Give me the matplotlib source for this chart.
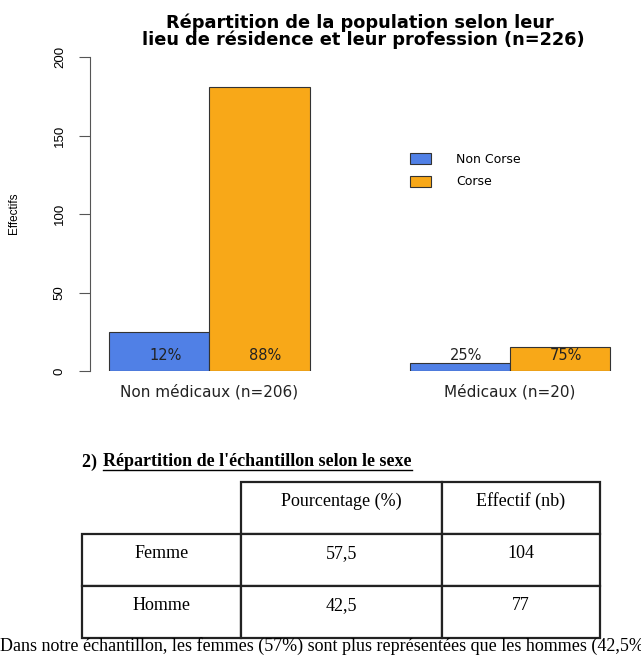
import matplotlib
matplotlib.use('Agg')
import matplotlib.pyplot as plt
import matplotlib.transforms as mtransforms
from matplotlib.patches import Patch
import numpy as np

# ===== données =====
groupes = ['Non médicaux (n=206)', 'Médicaux (n=20)']
non_corse = [25, 5]
corse = [181, 15]
pct_non_corse = ['12%', '25%']
pct_corse = ['88%', '75%']
y_ticks = [0, 50, 100, 150, 200]

tab_colonnes = ['Pourcentage (%)', 'Effectif (nb)']
tab_lignes = ['Femme', 'Homme']
pourcentage = ['57,5', '42,5']
effectif = ['104', '77']

BLEU = '#5080E6'
ORANGE = '#F8A818'
W, H = 641, 657

fig = plt.figure(figsize=(W / 100, H / 100), dpi=100)


def fx(px):
    return px / W


def fy(py):
    return 1 - py / H


# ===== barplot (style R, étiré en largeur) =====
x_px0, unit = 109.2, 100.2   # bord gauche de la 1re barre, largeur d'une barre
ax_l, ax_r = 89.5, 630
ax = fig.add_axes([fx(ax_l), fy(371), fx(ax_r - ax_l), fy(57) - fy(371)])
pos_bleu = np.array([1.5, 4.5])
pos_orange = pos_bleu + 1
ax.bar(pos_bleu, non_corse, width=1, color=BLEU, edgecolor='#333333', linewidth=0.8)
ax.bar(pos_orange, corse, width=1, color=ORANGE, edgecolor='#333333', linewidth=0.8)
ax.set_ylim(0, 200)
ax.set_xlim(1 - (x_px0 - ax_l) / unit, 1 + (ax_r - x_px0) / unit)
for s in ['top', 'right', 'bottom']:
    ax.spines[s].set_visible(False)
ax.spines['left'].set_color('#555555')
ax.set_xticks([])
ax.set_yticks(y_ticks)
ax.set_yticklabels([str(v) for v in y_ticks], rotation=90, va='center',
                   fontsize=9.5, family='Liberation Sans')
ax.tick_params(axis='y', length=8, pad=9, color='#555555')
fig.text(fx(14), fy(213), 'Effectifs', rotation=90, ha='center', va='center',
         fontsize=8.5, family='Liberation Sans')

for x, t in zip(pos_bleu, pct_non_corse):
    ax.text(x + 0.06, 10, t, ha='center', va='center', fontsize=10.5,
            family='DejaVu Sans', color='#222222')
for x, t in zip(pos_orange, pct_corse):
    ax.text(x + 0.06, 10, t, ha='center', va='center', fontsize=10.5,
            family='DejaVu Sans', color='#222222')
for x, g in zip(pos_bleu + 0.5, groupes):
    ax.text(x, -13.5, g, ha='center', va='center', fontsize=11,
            family='DejaVu Sans', color='#222222')

handles = [Patch(facecolor=BLEU, edgecolor='#333333', linewidth=0.8),
           Patch(facecolor=ORANGE, edgecolor='#333333', linewidth=0.8)]
ax.legend(handles, ['Non Corse', 'Corse'], loc='upper left',
          bbox_to_anchor=(fx(410), fy(153)), bbox_transform=fig.transFigure,
          frameon=False, borderpad=0, borderaxespad=0,
          handlelength=1.68, handleheight=0.96, handletextpad=2.0,
          labelspacing=0.75, prop={'family': 'DejaVu Sans', 'size': 9})

fig.text(fx(360), fy(28), 'Répartition de la population selon leur',
         ha='center', va='baseline', fontsize=12.8, fontweight='bold', family='DejaVu Sans')
fig.text(fx(363), fy(45), 'lieu de résidence et leur profession (n=226)',
         ha='center', va='baseline', fontsize=12.8, fontweight='bold', family='DejaVu Sans')

# ===== partie document =====
serif = 'Liberation Serif'
fig.text(fx(82), fy(462), '2) ', ha='left', va='center', fontsize=13,
         fontweight='bold', family=serif)
titre = fig.text(fx(103), fy(462), "Répartition de l'échantillon selon le sexe",
                 ha='left', va='center', fontsize=13, fontweight='bold', family=serif)
fig.canvas.draw()
bb = titre.get_window_extent()
fig.add_artist(plt.Line2D([bb.x0 / W, bb.x1 / W], [fy(469.5), fy(469.5)],
                          transform=fig.transFigure, color='black', linewidth=1))

cellules = [[''] + tab_colonnes]
for r, p, e in zip(tab_lignes, pourcentage, effectif):
    cellules.append([r, p, e])

tax = fig.add_axes([0, 0, 1, 1])
tax.set_axis_off()
tab = tax.table(cellText=cellules, cellLoc='center',
                colWidths=[159, 201, 158],
                bbox=[fx(82), fy(638), fx(600 - 82), fy(482) - fy(638)])
tab.auto_set_font_size(False)
decalage = mtransforms.Affine2D().translate(0, 6.5)   # texte un peu au-dessus du centre
for (i, j), c in tab.get_celld().items():
    c.set_linewidth(1.6)
    c.set_edgecolor('#222222')
    c.get_text().set_fontsize(13)
    c.get_text().set_fontfamily(serif)
    c.get_text().set_transform(decalage)
    if i == 0 and j == 0:
        c.visible_edges = ''

fig.text(0, fy(646), 'Dans notre échantillon, les femmes (57%) sont plus représentées que les hommes (42,5%)',
         ha='left', va='center', fontsize=13, family=serif)

plt.savefig('out.png', dpi=100)
